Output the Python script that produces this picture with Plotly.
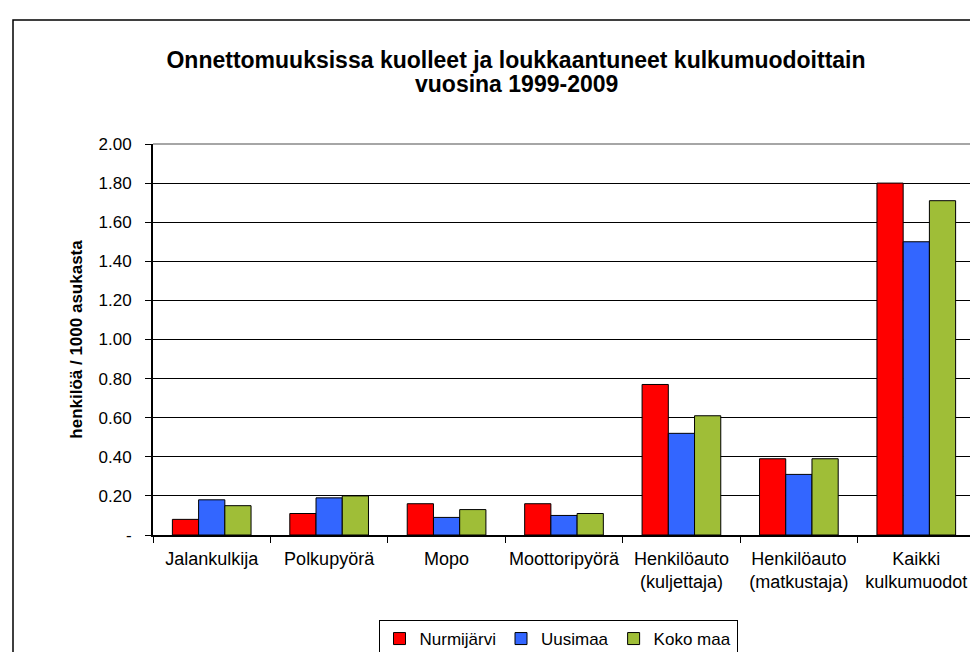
import plotly.graph_objects as go

categories = ["Jalankulkija", "Polkupyörä", "Mopo", "Moottoripyörä",
              "Henkilöauto<br>(kuljettaja)", "Henkilöauto<br>(matkustaja)",
              "Kaikki<br>kulkumuodot"]
series_names = ["Nurmijärvi", "Uusimaa", "Koko maa"]
nurmijarvi = [0.08, 0.11, 0.16, 0.16, 0.77, 0.39, 1.80]
uusimaa = [0.18, 0.19, 0.09, 0.10, 0.52, 0.31, 1.50]
koko_maa = [0.15, 0.20, 0.13, 0.11, 0.61, 0.39, 1.71]
colors = ["#FF0000", "#3366FF", "#9FBE37"]
y_ticks = [0, 0.2, 0.4, 0.6, 0.8, 1.0, 1.2, 1.4, 1.6, 1.8, 2.0]
y_ticktext = ["-", "0.20", "0.40", "0.60", "0.80", "1.00", "1.20", "1.40", "1.60", "1.80", "2.00"]
title_line1 = "Onnettomuuksissa kuolleet ja loukkaantuneet kulkumuodoittain"
title_line2 = "vuosina 1999-2009"

FONT = "Liberation Sans, Arial, sans-serif"

fig = go.Figure()
for name, vals, col in zip(series_names, [nurmijarvi, uusimaa, koko_maa], colors):
    fig.add_trace(go.Bar(x=categories, y=vals, name=name, marker_color=col,
                         marker_line_color="black", marker_line_width=1))

W, H = 978, 652
L, R, T, B = 145, 11, 136, 125
pw, ph = W - L - R, H - T - B

def px(x):
    return (x - L) / pw

def py(y):
    return (H - B - y) / ph

title_font = dict(family=FONT, size=23, color="black", weight="bold")

fig.update_layout(
    width=W, height=H,
    margin=dict(l=L, r=R, t=T, b=B, autoexpand=False),
    paper_bgcolor="white", plot_bgcolor="white",
    barmode="group", bargap=0.33, bargroupgap=0,
    font=dict(family=FONT, size=17, color="black"),
    title=dict(text=title_line1,
               x=508 / W, xref="container", xanchor="center",
               y=1 - 52 / H, yref="container", yanchor="middle",
               font=title_font),
    annotations=[dict(text=title_line2, x=508 / W, xref="paper", y=py(76),
                      yref="paper", xanchor="center", yanchor="middle",
                      showarrow=False, font=title_font)],
    showlegend=True,
    legend=dict(orientation="h", x=px(550), xanchor="center", y=py(631), yanchor="middle",
                bordercolor="black", borderwidth=1, bgcolor="white",
                font=dict(family=FONT, size=17), traceorder="normal",
                itemwidth=30, tracegroupgap=0),
    xaxis=dict(showline=True, linecolor="black", linewidth=2, ticks="outside",
               tickson="boundaries", ticklen=6, tickcolor="black", tickwidth=1,
               showgrid=False, tickfont=dict(family=FONT, size=18),
               tickangle=0, automargin=False, ticklabelstandoff=6),
    yaxis=dict(range=[0, 2.0], tickvals=y_ticks, ticktext=y_ticktext,
               showline=True, linecolor="black", linewidth=2, ticks="outside",
               ticklen=6, tickcolor="black", showgrid=True, gridcolor="black",
               gridwidth=1, zeroline=False, tickfont=dict(family=FONT, size=17),
               ticklabelstandoff=10, automargin=False,
               title=dict(text="henkilöä / 1000 asukasta",
                          font=dict(family=FONT, size=17, weight="bold"),
                          standoff=12)),
    shapes=[
        dict(type="line", xref="paper", yref="paper", x0=0, x1=1, y0=1, y1=1,
             line=dict(color="#888888", width=1.5)),
        dict(type="line", xref="paper", yref="paper", x0=1, x1=1, y0=0, y1=1,
             line=dict(color="#888888", width=1.5)),
        dict(type="rect", xref="paper", yref="paper", x0=px(5), x1=px(1010),
             y0=py(670), y1=py(12), line=dict(color="black", width=1.5),
             fillcolor="rgba(0,0,0,0)", layer="below"),
    ],
)
# annotation x is in paper coords: convert the container centre
fig.layout.annotations[0].x = px(508)

fig.write_html("out.html")
